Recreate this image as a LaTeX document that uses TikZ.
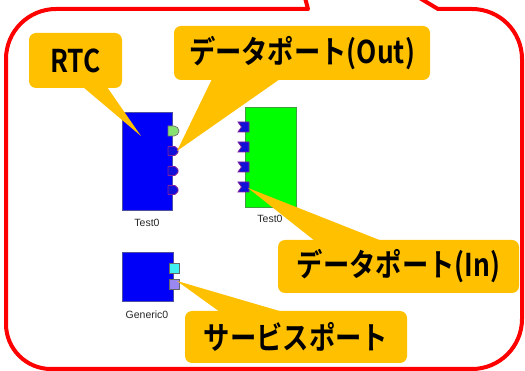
\documentclass[tikz,border=0pt]{standalone}
\usepackage{fontspec}
\newfontfamily\jpfont{Noto Sans CJK JP}[BoldFont={Noto Sans CJK JP Bold}]
\newfontfamily\uifont{Liberation Sans}
\definecolor{calloutorange}{HTML}{FFC000}
\definecolor{framered}{HTML}{FF0000}
\definecolor{rtcblue}{HTML}{0000F8}
\definecolor{rtcgreen}{HTML}{00FF00}
\definecolor{rtcborder}{HTML}{5050A0}
\definecolor{greenborder}{HTML}{40A040}
\definecolor{portblue}{HTML}{1010D8}
\definecolor{portpurple}{HTML}{8020A0}
\definecolor{portgreen}{HTML}{88E070}
\definecolor{portcyan}{HTML}{40F0F0}
\definecolor{portlilac}{HTML}{9A88F0}
\tikzset{
  callout/.style={fill=calloutorange, rounded corners=7pt, inner sep=0pt,
    font=\jpfont\bfseries\fontsize{28}{28}\selectfont, text=black},
  tail/.style={fill=calloutorange},
  rtcbody/.style={draw=rtcborder, line width=0.8pt, inner sep=0pt},
  complabel/.style={font=\uifont\fontsize{10.5}{11}\selectfont, text=black!85},
  portline/.style={draw=portpurple, fill=portblue, line width=0.8pt},
  pics/outport/.style={code={
    \draw[portline, rounded corners=0.5pt] (-5,-4.5) -- (2,-4.5) -- (5,-1.5) -- (5,1.5) -- (2,4.5) -- (-5,4.5) -- cycle;}},
  pics/inport/.style={code={
    \draw[portline] (-5.5,-5) -- (5.5,-5) -- (5.5,5) -- (-5.5,5) -- (-2,0) -- cycle;}},
}
\newcommand{\jptext}[1]{\scalebox{0.94}[1.12]{#1}}
\begin{document}
\begin{tikzpicture}[x=1pt,y=-1pt]
\useasboundingbox (0,0) rectangle (525,371);

% outer frame with its tail running off the top edge
\draw[framered, line width=4pt, line join=round]
  (304,-6) -- (308,9) -- (56,9)
  arc[start angle=270, end angle=180, radius=50] -- (6,324)
  arc[start angle=180, end angle=90, radius=45] -- (472,369)
  arc[start angle=90, end angle=0, radius=50] -- (522,59)
  arc[start angle=0, end angle=-90, radius=50] -- (438,9) -- (413,-6);

% component Test0 (blue, output ports)
\node[rtcbody, fill=rtcblue, minimum width=50pt, minimum height=98pt] (test0a) at (147,161) {};
\node[complabel] (test0alabel) at (147,223) {Test0};
\draw[draw=black!55, fill=portgreen, line width=0.7pt]
  (168,126) -- (174,126) arc[start angle=-90, end angle=90, radius=5] -- (168,136) -- cycle;
\pic at (173,151) {outport};
\pic at (173,171) {outport};
\pic at (173,190) {outport};
\coordinate (outport) at (177,151);

% component Test0 (green, input ports)
\node[draw=greenborder, line width=0.8pt, fill=rtcgreen, minimum width=51pt, minimum height=100pt, inner sep=0pt] (test0b) at (270.5,157) {};
\node[complabel] (test0blabel) at (270,219) {Test0};
\pic at (243.5,127) {inport};
\pic at (243.5,147) {inport};
\pic at (243.5,167) {inport};
\pic at (243.5,187) {inport};
\coordinate (inport) at (248,188);

% component Generic0 (service ports)
\node[rtcbody, fill=rtcblue, minimum width=51pt, minimum height=49pt] (generic) at (147.5,276.5) {};
\node[complabel] (genericlabel) at (147,315) {Generic0};
\draw[draw=black!60, fill=portcyan, line width=0.7pt] (169,263) rectangle (179,273);
\draw[draw=black!60, fill=portlilac, line width=0.7pt] (169,279) rectangle (179,289);
\coordinate (svcport) at (177,281);
\coordinate (rtcbody) at (141,136);

% callout tails
\fill[tail] (83,87) -- (rtcbody) -- (107,87) -- cycle;
\fill[tail] (212,79) -- (outport) -- (280,79) -- cycle;
\fill[tail] (315,241) -- (inport) -- (382,241) -- cycle;
\fill[tail] (220,312) -- (svcport) -- (283,312) -- cycle;

% callout boxes
\node[callout, minimum width=93pt, minimum height=55pt] (rtcnote) at (75.5,60.5) {\jptext{RTC}};
\node[callout, minimum width=256pt, minimum height=54pt] (outnote) at (302,53) {\jptext{データポート(Out)}};
\node[callout, minimum width=241pt, minimum height=53pt] (innote) at (398.5,266.5) {\jptext{データポート(In)}};
\node[callout, minimum width=222pt, minimum height=52pt] (svcnote) at (296,337) {\jptext{サービスポート}};
\end{tikzpicture}
\end{document}
